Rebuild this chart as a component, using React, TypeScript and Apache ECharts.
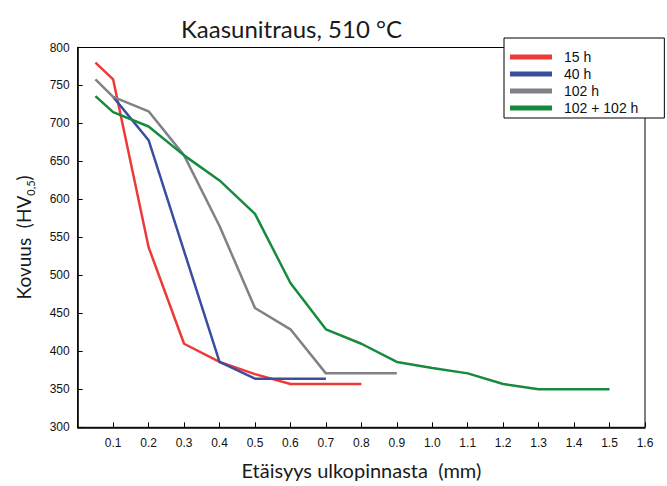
import React, { useEffect, useRef } from "react";
import * as echarts from "echarts";

const titleText = "Kaasunitraus, 510 °C";
const seriesNames = ["15 h", "40 h", "102 h", "102 + 102 h"];
const seriesColors = ["#EE3A36", "#3B4DA0", "#808086", "#178A3E"];

const x15 = [0.05, 0.1, 0.2, 0.3, 0.4, 0.5, 0.6, 0.7, 0.8];
const y15 = [780, 758, 537, 410, 386, 370, 357, 357, 357];

const x40 = [0.1, 0.2, 0.4, 0.5, 0.6, 0.7];
const y40 = [735, 678, 386, 364, 364, 364];

const x102 = [0.05, 0.1, 0.2, 0.3, 0.4, 0.5, 0.6, 0.7, 0.8, 0.9];
const y102 = [758, 735, 716, 658, 565, 457, 429, 371, 371, 371];

const x204 = [0.05, 0.1, 0.2, 0.3, 0.4, 0.5, 0.6, 0.7, 0.8, 0.9, 1.0, 1.1, 1.2, 1.3, 1.4, 1.5];
const y204 = [736, 715, 696, 658, 625, 581, 490, 429, 410, 386, 378, 371, 357, 350, 350, 350];

const xs = [x15, x40, x102, x204];
const ys = [y15, y40, y102, y204];

export default function App() {
  const ref = useRef<HTMLDivElement>(null);
  useEffect(() => {
    if (!ref.current) return;
    const chart = echarts.init(ref.current, null, { renderer: "svg" });
    const tickFont = { fontFamily: "Liberation Sans, Arial, sans-serif", fontSize: 12, color: "#111" };
    chart.setOption({
      animation: false,
      backgroundColor: "#fff",
      title: {
        text: titleText,
        left: 176,
        top: 11,
        textStyle: { fontFamily: "Lato", fontSize: 24, fontWeight: "normal", color: "#1a1a1a" },
      },
      grid: {
        left: 77.7,
        right: 22,
        top: 47.5,
        bottom: 58.7,
        show: true,
        borderColor: "#000",
        borderWidth: 1,
        containLabel: false,
      },
      legend: {
        orient: "vertical",
        left: 504,
        top: 38,
        data: seriesNames,
        icon: "rect",
        itemWidth: 42,
        itemHeight: 5,
        itemGap: 1,
        padding: [11, 26, 2, 6],
        backgroundColor: "#fff",
        borderColor: "#000",
        borderWidth: 1,
        z: 10,
        textStyle: {
          fontFamily: "Liberation Sans, Arial, sans-serif",
          fontSize: 14,
          lineHeight: 16,
          color: "#111",
          padding: [0, 0, 0, 7],
        },
      },
      xAxis: {
        type: "value",
        min: 0,
        max: 1.6,
        interval: 0.1,
        name: "Etäisyys ulkopinnasta  (mm)",
        nameLocation: "middle",
        nameGap: 33,
        nameTextStyle: { fontFamily: "Lato", fontSize: 20, color: "#1a1a1a" },
        axisLine: { show: true, lineStyle: { color: "#000", width: 1.5 } },
        axisTick: { show: true, inside: true, length: 5, lineStyle: { color: "#000" } },
        axisLabel: {
          ...tickFont,
          margin: 10,
          formatter: (v: number) => (Math.abs(v) < 1e-9 ? "" : v.toFixed(1)),
        },
        splitLine: { show: false },
      },
      yAxis: {
        type: "value",
        min: 300,
        max: 800,
        interval: 50,
        name: "{a|Kovuus  (HV}{s|0,5}{a|)}",
        nameLocation: "middle",
        nameGap: 42,
        nameTextStyle: {
          rich: {
            a: { fontFamily: "Lato", fontSize: 19, color: "#1a1a1a", lineHeight: 24, verticalAlign: "middle" },
            s: { fontFamily: "Lato", fontSize: 11, color: "#1a1a1a", lineHeight: 24, verticalAlign: "bottom", padding: [12, 0, 0, 0] },
          },
        },
        axisLine: { show: true, lineStyle: { color: "#000", width: 1.5 } },
        axisTick: { show: true, inside: true, length: 5, lineStyle: { color: "#000" } },
        axisLabel: { ...tickFont, margin: 8 },
        splitLine: { show: false },
      },
      series: seriesNames.map((name, i) => ({
        name,
        type: "line",
        symbol: "none",
        data: xs[i].map((x, j) => [x, ys[i][j]]),
        lineStyle: { color: seriesColors[i], width: 2.5 },
        itemStyle: { color: seriesColors[i] },
      })),
    });
    return () => chart.dispose();
  }, []);
  return (
    <div
      ref={ref}
      style={{ position: "fixed", left: 0, top: 0, width: 667, height: 486 }}
    />
  );
}
